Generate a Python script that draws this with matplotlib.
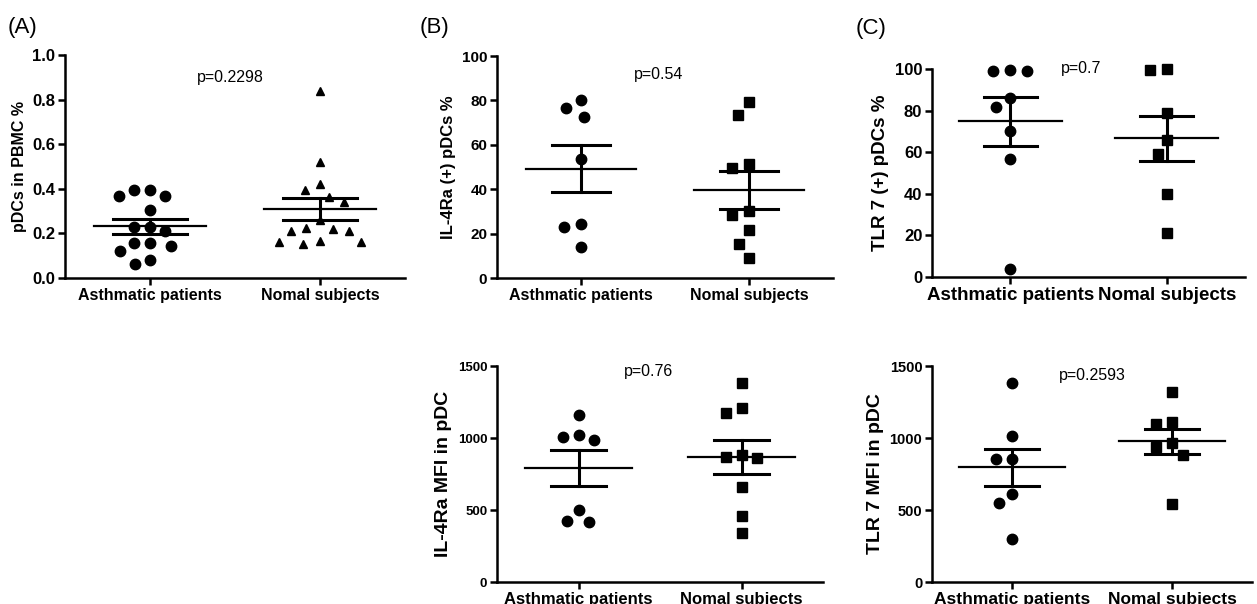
import matplotlib
matplotlib.use('Agg')
import matplotlib.pyplot as plt
import numpy as np

plt.rcParams['font.family'] = ['Liberation Sans', 'DejaVu Sans']

groups = ['Asthmatic patients', 'Nomal subjects']

# (A) pDCs in PBMC %
a_asth = [0.396, 0.37, 0.37, 0.396, 0.304, 0.213, 0.231, 0.231,
          0.145, 0.157, 0.157, 0.119, 0.064, 0.082]
a_norm = [0.840, 0.522, 0.422, 0.393, 0.363, 0.340, 0.261, 0.219,
          0.209, 0.209, 0.224, 0.154, 0.164, 0.160, 0.160]
a_mean = [0.232, 0.310]
a_sem = [0.034, 0.050]

# (B) IL-4Ra (+) pDCs %
b_asth = [80.2, 76.5, 72.7, 53.5, 24.4, 22.9, 13.9]
b_norm = [79.5, 73.5, 51.3, 49.5, 30.0, 28.2, 21.7, 15.4, 9.0]
b_mean = [49.3, 39.8]
b_sem = [10.7, 8.6]

# (C) TLR 7 (+) pDCs %
c_asth = [99.7, 99.2, 99.2, 86.1, 81.6, 70.4, 56.9, 3.8]
c_norm = [100.0, 99.7, 78.8, 66.0, 59.1, 40.1, 21.2]
c_mean = [74.8, 66.6]
c_sem = [11.6, 11.0]

# IL-4Ra MFI in pDC
d_asth = [1159, 1020, 985, 1004, 498, 417, 424]
d_norm = [1379, 1206, 1171, 881, 858, 869, 661, 459, 343]
d_mean = [790, 869]
d_sem = [125, 116]

# TLR 7 MFI in pDC
e_asth = [1379, 1013, 851, 851, 614, 549, 297]
e_norm = [1317, 1113, 1096, 939, 962, 881, 540]
e_mean = [796, 976]
e_sem = [131, 90]


def swarm(vals, ppx, ppy, gap):
    # simple beeswarm: nearest-to-centre free slot for each point
    vals = np.asarray(vals, dtype=float)
    xs = np.zeros(len(vals))
    placed = []
    for i in np.argsort(-vals, kind='stable'):
        y = vals[i] * ppy
        bad = []
        for px, py in placed:
            dy = abs(py - y)
            if dy < gap:
                dx = np.sqrt(gap ** 2 - dy ** 2)
                bad.append((px - dx, px + dx))
        cands = sorted([0.0] + [b for iv in bad for b in iv], key=abs)
        for c in cands:
            if all(not (lo + 1e-6 < c < hi - 1e-6) for lo, hi in bad):
                xs[i] = c
                break
        placed.append((xs[i], y))
    return xs / ppx


def panel(ax, asth, norm, mean, sem, mk, ms, ylim, yticks, ylabel, ptxt, ppos,
          tick_fs, xlab_fs, ylab_fs, cap=0.17, gap=15):
    ax.set_xlim(0.5, 2.5)
    ax.set_ylim(*ylim)
    bb = ax.get_window_extent()
    ppx = bb.width / 2.0
    ppy = bb.height / (ylim[1] - ylim[0])

    for k, (vals, m) in enumerate(zip([asth, norm], mk)):
        x0 = k + 1
        off = swarm(vals, ppx, ppy, gap)
        ax.plot(x0 + off, vals, m, color='black', ms=ms[k], ls='none',
                zorder=3, clip_on=False)
        ax.plot([x0 - 0.33, x0 + 0.33], [mean[k], mean[k]], color='black',
                lw=1.6, zorder=4)
        lo, hi = mean[k] - sem[k], mean[k] + sem[k]
        ax.plot([x0, x0], [lo, hi], color='black', lw=2.2, zorder=4)
        for yy in (lo, hi):
            ax.plot([x0 - cap, x0 + cap], [yy, yy], color='black', lw=2.2,
                    zorder=4)

    ax.spines['top'].set_visible(False)
    ax.spines['right'].set_visible(False)
    for s in ('left', 'bottom'):
        ax.spines[s].set_linewidth(1.8)
    ax.set_xticks([1, 2])
    ax.set_xticklabels(groups, fontsize=xlab_fs, fontweight='bold')
    ax.set_yticks(yticks)
    ax.set_yticklabels([str(t) for t in yticks], fontsize=tick_fs,
                       fontweight='bold')
    ax.tick_params(direction='out', length=5, width=1.8, pad=2)
    ax.set_ylabel(ylabel, fontsize=ylab_fs, fontweight='bold', labelpad=4)
    ax.text(ppos[0], ppos[1], ptxt, fontsize=11.5, ha='center', va='center')


fig = plt.figure(figsize=(12.57, 6.04), dpi=100)

ax_a = fig.add_axes([0.0517, 0.5397, 0.2705, 0.369])
ax_b = fig.add_axes([0.3954, 0.5397, 0.2673, 0.3675])
ax_c = fig.add_axes([0.7415, 0.5414, 0.2490, 0.3444])
ax_d = fig.add_axes([0.3954, 0.0364, 0.2594, 0.3576])
ax_e = fig.add_axes([0.7415, 0.0364, 0.2546, 0.3576])

panel(ax_a, a_asth, a_norm, a_mean, a_sem, ['o', '^'], [7.5, 6], (0, 1.0),
      [0.0, 0.2, 0.4, 0.6, 0.8, 1.0], 'pDCs in PBMC %', 'p=0.2298',
      (1.47, 0.90), 12, 11.5, 11.5, cap=0.22, gap=16)
panel(ax_b, b_asth, b_norm, b_mean, b_sem, ['o', 's'], [7.5, 6.5], (0, 100),
      [0, 20, 40, 60, 80, 100], 'IL-4Ra (+) pDCs %', 'p=0.54',
      (1.46, 91.5), 11, 11.5, 12, gap=17)
panel(ax_c, c_asth, c_norm, c_mean, c_sem, ['o', 's'], [7.5, 6.5], (0, 100),
      [0, 20, 40, 60, 80, 100], 'TLR 7 (+) pDCs %', 'p=0.7',
      (1.45, 100), 12, 13.5, 13.5, gap=17)
panel(ax_d, d_asth, d_norm, d_mean, d_sem, ['o', 's'], [7.5, 6.5], (0, 1500),
      [0, 500, 1000, 1500], 'IL-4Ra MFI in pDC', 'p=0.76',
      (1.43, 1465), 9.5, 12, 14, gap=16)
panel(ax_e, e_asth, e_norm, e_mean, e_sem, ['o', 's'], [7.5, 6.5], (0, 1500),
      [0, 500, 1000, 1500], 'TLR 7 MFI in pDC', 'p=0.2593',
      (1.5, 1437), 10.5, 12.5, 14, gap=16)

fig.text(0.006, 0.955, '(A)', fontsize=16, va='center')
fig.text(0.334, 0.955, '(B)', fontsize=16, va='center')
fig.text(0.681, 0.952, '(C)', fontsize=16, va='center')

fig.savefig('out.png', dpi=100)
